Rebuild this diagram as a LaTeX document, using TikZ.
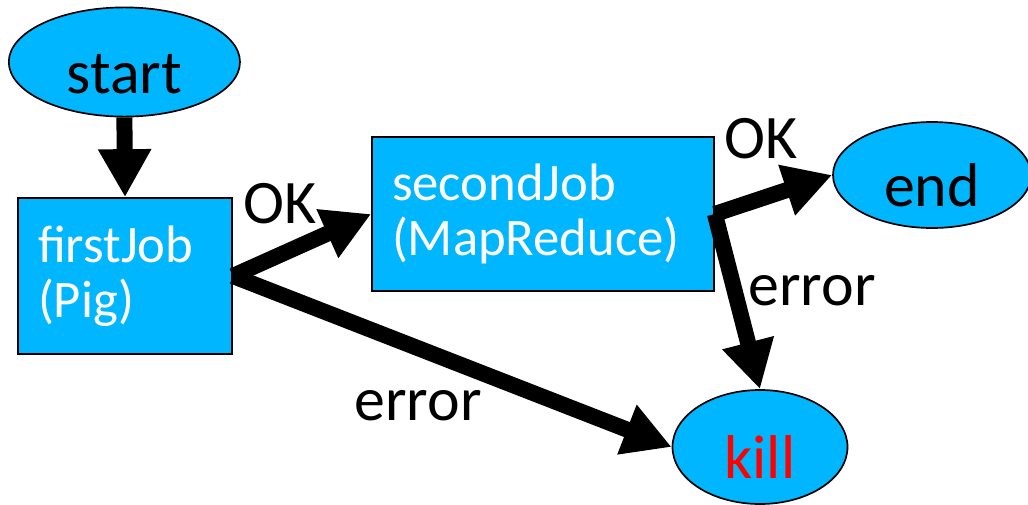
\documentclass[tikz,border=0pt]{standalone}
\usepackage{fontspec}
\setmainfont{Carlito}
\usepackage{xcolor}
\usetikzlibrary{arrows.meta,shapes.geometric}
\definecolor{AzulTrabajo}{RGB}{0,183,255}
\definecolor{RojoKill}{RGB}{255,0,0}

\begin{document}
\begin{tikzpicture}[>={Triangle[length=12mm,width=12.5mm]},
  state/.style={ellipse,draw,line width=1.2pt,fill=AzulTrabajo,inner sep=0pt,
    text height=1.56cm,text depth=0pt,font=\fontsize{44}{50}\selectfont},
  job/.style={rectangle,draw,line width=1.2pt,fill=AzulTrabajo,text=white,
    align=left,inner xsep=5mm,font=\fontsize{37.5}{39}\selectfont},
  flow/.style={->,line width=4mm},
  lbl/.style={anchor=base,font=\fontsize{44}{50}\selectfont}]
  \useasboundingbox (0,0) rectangle (25.7,12.6);
  \node[state,minimum width=5.78cm,minimum height=2.73cm] (start) at (3.11,11.05) {start};
  \node[job,text width=4.35cm,minimum height=3.9cm] (first) at (3.125,5.7) {firstJob\\(Pig)};
  \node[job,text width=7.55cm,minimum height=3.85cm] (second) at (13.575,7.25) {secondJob\\(MapReduce)};
  \node[state,minimum width=4.95cm,minimum height=2.65cm] (end) at (23.3,8.225) {end};
  \node[state,text=RojoKill,minimum width=4.375cm,minimum height=2.85cm] (kill) at (19.0,1.425) {kill};
  \draw[flow] (start.south)--(first.north);
  \draw[flow] (first.east)--(second.west);
  \draw[flow] (first.east)--(kill.west);
  \draw[flow] (second.east)--(end.west);
  \draw[flow] (second.east)--(kill.north);
  \node[lbl] (okA) at (7.0,7.025) {OK};
  \node[lbl] (okB) at (19.025,8.65) {OK};
  \node[lbl] (errA) at (20.3,4.975) {error};
  \node[lbl] (errB) at (10.45,2.1) {error};
\end{tikzpicture}
\end{document}
